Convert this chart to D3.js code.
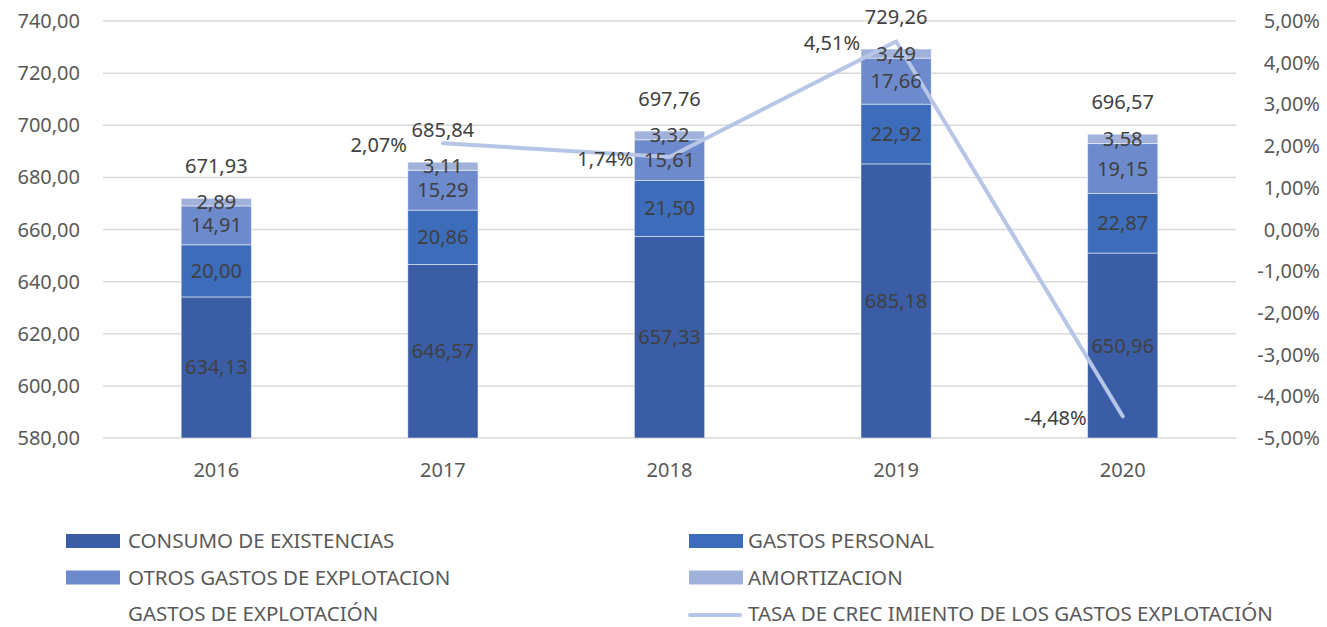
<!DOCTYPE html>
<html>
<head>
<meta charset="utf-8">
<script src="https://cdn.jsdelivr.net/npm/d3@7"></script>
<style>
  body { margin: 0; background: #fff; }
  text { font-family: "Noto Sans", sans-serif; fill: #404040; }
</style>
</head>
<body>
<div class="chart"></div>
<script>
var years = ["2016", "2017", "2018", "2019", "2020"];
var consumo = [634.13, 646.57, 657.33, 685.18, 650.96];
var personal = [20.00, 20.86, 21.50, 22.92, 22.87];
var otros = [14.91, 15.29, 15.61, 17.66, 19.15];
var amortizacion = [2.89, 3.11, 3.32, 3.49, 3.58];
var totales = [671.93, 685.84, 697.76, 729.26, 696.57];
var tasa = [null, 2.07, 1.74, 4.51, -4.48];
var leftTicks = [580, 600, 620, 640, 660, 680, 700, 720, 740];
var rightTicks = [-5, -4, -3, -2, -1, 0, 1, 2, 3, 4, 5];

var seriesNames = ["CONSUMO DE EXISTENCIAS", "GASTOS PERSONAL", "OTROS GASTOS DE EXPLOTACION", "AMORTIZACION"];
var seriesColors = ["#3A5DA6", "#3D6CBB", "#6D8ACC", "#A0B1DA"];
var lineColor = "#B7C6E6";

var width = 1327, height = 627;
var plotLeft = 103, plotRight = 1236, plotTop = 21, plotBottom = 438;

var fmt = function(v) { return v.toFixed(2).replace(".", ","); };

var svg = d3.select(".chart").append("svg")
  .attr("width", width)
  .attr("height", height);

var x = d3.scaleBand().domain(years).range([plotLeft, plotRight]).paddingInner(0.69).paddingOuter(0.345);
var y = d3.scaleLinear().domain([580, 740]).range([plotBottom, plotTop]);
var y2 = d3.scaleLinear().domain([-5, 5]).range([plotBottom, plotTop]);

// gridlines
svg.append("g").selectAll("line").data(leftTicks).enter().append("line")
  .attr("x1", plotLeft).attr("x2", plotRight)
  .attr("y1", function(d) { return y(d); })
  .attr("y2", function(d) { return y(d); })
  .attr("stroke", "#D9D9D9")
  .attr("stroke-width", 1.5);

// left axis labels
svg.append("g").selectAll("text").data(leftTicks).enter().append("text")
  .attr("x", 80)
  .attr("y", function(d) { return y(d); })
  .attr("dy", "0.35em")
  .attr("text-anchor", "end")
  .style("font-size", "20px")
  .style("fill", "#595959")
  .text(fmt);

// right axis labels
svg.append("g").selectAll("text").data(rightTicks).enter().append("text")
  .attr("x", 1320)
  .attr("y", function(d) { return y2(d); })
  .attr("dy", "0.35em")
  .attr("text-anchor", "end")
  .style("font-size", "20px")
  .style("fill", "#595959")
  .text(function(d) { return fmt(d) + "%"; });

// x labels
svg.append("g").selectAll("text").data(years).enter().append("text")
  .attr("x", function(d) { return x(d) + x.bandwidth() / 2; })
  .attr("y", 470)
  .attr("dy", "0.35em")
  .attr("text-anchor", "middle")
  .style("font-size", "20px")
  .style("fill", "#595959")
  .text(function(d) { return d; });

// stacked bars
var rows = years.map(function(yr, i) {
  return { year: yr, s0: consumo[i], s1: personal[i], s2: otros[i], s3: amortizacion[i] };
});
var stack = d3.stack().keys(["s0", "s1", "s2", "s3"])(rows);

var layers = svg.append("g").selectAll("g").data(stack).enter().append("g")
  .attr("fill", function(d, i) { return seriesColors[i]; });

layers.selectAll("rect").data(function(d) { return d; }).enter().append("rect")
  .attr("x", function(d) { return x(d.data.year); })
  .attr("width", x.bandwidth())
  .attr("y", function(d) { return y(d[1]); })
  .attr("height", function(d) { return y(Math.max(d[0], 580)) - y(d[1]); })
  .attr("stroke", "#ffffff")
  .attr("stroke-opacity", 0.5)
  .attr("stroke-width", 1);

// growth line (over the bars, under the labels)
var pts = years.map(function(yr, i) { return { year: yr, v: tasa[i] }; })
  .filter(function(d) { return d.v !== null; });

var line = d3.line()
  .x(function(d) { return x(d.year) + x.bandwidth() / 2; })
  .y(function(d) { return y2(d.v); });

svg.append("path")
  .datum(pts)
  .attr("d", line)
  .attr("fill", "none")
  .attr("stroke", lineColor)
  .attr("stroke-width", 4)
  .attr("stroke-linecap", "round")
  .attr("stroke-linejoin", "round");

// segment labels
var labels = svg.append("g").selectAll("g").data(stack).enter().append("g");
labels.selectAll("text").data(function(d) { return d; }).enter().append("text")
  .attr("x", function(d) { return x(d.data.year) + x.bandwidth() / 2; })
  .attr("y", function(d) { return (y(Math.max(d[0], 580)) + y(d[1])) / 2; })
  .attr("dy", "0.35em")
  .attr("text-anchor", "middle")
  .style("font-size", "20px")
  .text(function(d) { return fmt(d[1] - d[0]); });

// totals
svg.append("g").selectAll("text").data(totales).enter().append("text")
  .attr("x", function(d, i) { return x(years[i]) + x.bandwidth() / 2; })
  .attr("y", function(d) { return y(d) - 32; })
  .attr("dy", "0.35em")
  .attr("text-anchor", "middle")
  .style("font-size", "20px")
  .text(fmt);

// growth labels
svg.append("g").selectAll("text").data(pts).enter().append("text")
  .attr("x", function(d) { return x(d.year) + x.bandwidth() / 2 - 36; })
  .attr("y", function(d) { return y2(d.v) + 2; })
  .attr("dy", "0.35em")
  .attr("text-anchor", "end")
  .style("font-size", "20px")
  .text(function(d) { return fmt(d.v) + "%"; });

// legend
var legendItems = [
  { name: seriesNames[0], type: "rect", color: seriesColors[0], col: 0, row: 0 },
  { name: seriesNames[1], type: "rect", color: seriesColors[1], col: 1, row: 0 },
  { name: seriesNames[2], type: "rect", color: seriesColors[2], col: 0, row: 1 },
  { name: seriesNames[3], type: "rect", color: seriesColors[3], col: 1, row: 1 },
  { name: "GASTOS DE EXPLOTACIÓN", type: "none", color: "none", col: 0, row: 2 },
  { name: "TASA DE CREC IMIENTO DE LOS GASTOS EXPLOTACIÓN", type: "line", color: lineColor, col: 1, row: 2 }
];

var legend = svg.append("g").selectAll("g").data(legendItems).enter().append("g")
  .attr("transform", function(d) {
    return "translate(" + (d.col === 0 ? 66 : 689) + "," + (541 + d.row * 36.5) + ")";
  });

legend.filter(function(d) { return d.type === "rect"; }).append("rect")
  .attr("x", 0).attr("y", -7)
  .attr("width", 54).attr("height", 14)
  .attr("fill", function(d) { return d.color; });

legend.filter(function(d) { return d.type === "line"; }).append("line")
  .attr("x1", 1).attr("x2", 51)
  .attr("y1", 1).attr("y2", 1)
  .attr("stroke", function(d) { return d.color; })
  .attr("stroke-width", 4)
  .attr("stroke-linecap", "round");

legend.append("text")
  .attr("x", function(d) { return d.col === 0 ? 62 : 59; })
  .attr("y", 0)
  .attr("dy", "0.35em")
  .style("font-size", "20.5px")
  .style("fill", "#595959")
  .text(function(d) { return d.name; });
</script>
</body>
</html>
